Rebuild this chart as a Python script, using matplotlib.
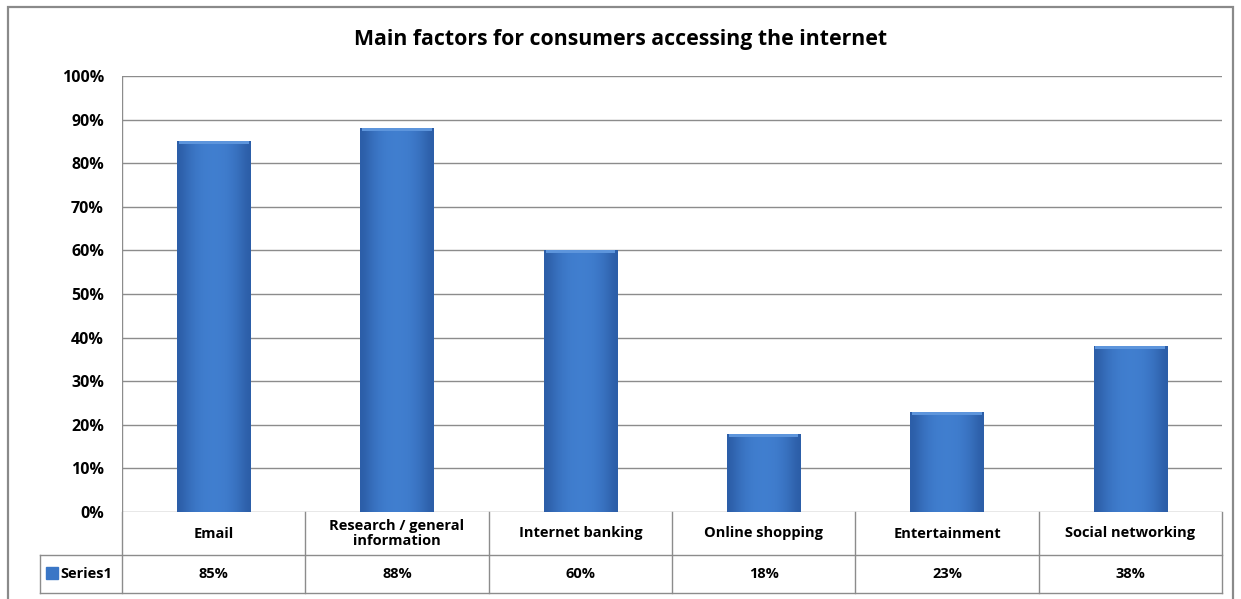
import matplotlib.pyplot as plt
import matplotlib.patches as mpatches
import matplotlib.transforms as mtransforms
import numpy as np

categories = ["Email", "Research / general\ninformation", "Internet banking",
              "Online shopping", "Entertainment", "Social networking"]
values = [85, 88, 60, 18, 23, 38]
series_name = "Series1"
yticks = list(range(0, 101, 10))

plt.rcParams['font.family'] = ['Open Sans', 'DejaVu Sans']
plt.rcParams['font.weight'] = 'bold'

grid_c = '#8c8c8c'
bar_w = 0.40

fig = plt.figure(figsize=[12.41, 5.99], dpi=100)

# outer chart frame
fig.patches.append(mpatches.Rectangle((8/1241, -0.02), (1233-8)/1241, 1.02 - 7/599,
                                      transform=fig.transFigure, fill=False,
                                      ec='#8a8a8a', lw=1.6))

ax = fig.add_axes([122/1241, 1 - 512/599, 1100/1241, 436/599])
x = np.arange(len(categories))
ax.set_xlim(-0.5, len(categories) - 0.5)
ax.set_ylim(0, 100)

for t in yticks:
    ax.axhline(t, color=grid_c, lw=1.0, zorder=0)

bars = ax.bar(x, values, width=bar_w, color='#3a76c6', zorder=2, lw=0)

# horizontal shading across each bar, darker towards the sides
shade = np.array([0.0, 0.3, 0.55, 0.72, 0.82, 0.85, 0.85, 0.82, 0.72, 0.55, 0.3, 0.0])
c0 = np.array([0x2c, 0x5e, 0xa8]) / 255
c1 = np.array([0x44, 0x84, 0xd6]) / 255
img = (c0[None, :] + (c1 - c0)[None, :] * shade[:, None])[None, :, :]
for b in bars:
    bx, bw, bh = b.get_x(), b.get_width(), b.get_height()
    im = ax.imshow(img, extent=(bx, bx + bw, 0, bh), aspect='auto',
                   interpolation='bicubic', zorder=3)
    im.set_clip_path(b)
    # bevelled top edge
    ax.fill_between([bx + 0.01, bx + bw - 0.01], bh - 0.7, bh, color='#5d95dc',
                    zorder=4, lw=0)

for s in ax.spines.values():
    s.set_visible(False)
ax.set_xticks([])
ax.set_yticks(yticks)
ax.set_yticklabels([f"{t}%" for t in yticks], fontsize=11.5, fontweight='bold')
ax.tick_params(axis='y', length=0, pad=13)
ax.axvline(-0.5, color=grid_c, lw=1.0, zorder=1)

# data table under the plot
tr = mtransforms.blended_transform_factory(ax.transData, ax.transAxes)
r1 = -43/436
r2 = -81/436
lx = -0.5 - 82/1100 * len(categories)
lkw = dict(color=grid_c, lw=1.0, transform=tr, clip_on=False)
ax.plot([lx, 5.5], [r1, r1], **lkw)
ax.plot([lx, 5.5], [r2, r2], **lkw)
ax.plot([lx, lx], [r1, r2], **lkw)
for b in np.arange(-0.5, 6.0, 1.0):
    ax.plot([b, b], [0, r2], **lkw)

for xi, cat, v in zip(x, categories, values):
    ax.text(xi, r1 / 2, cat, transform=tr, ha='center', va='center',
            fontsize=10.5, fontweight='bold', linespacing=1.15)
    ax.text(xi, (r1 + r2) / 2, f"{v}%", transform=tr, ha='center', va='center',
            fontsize=10.5, fontweight='bold')

ax.add_patch(mpatches.Rectangle((lx + 0.032, (r1 + r2) / 2 - 0.012), 0.064, 0.028,
                                transform=tr, clip_on=False, color='#3a76c6'))
ax.text(lx + 0.11, (r1 + r2) / 2, series_name, transform=tr, ha='left', va='center',
        fontsize=10.5, fontweight='bold')

fig.text(0.5, 1 - 40/599, "Main factors for consumers accessing the internet",
         ha='center', va='center', fontsize=15.3, fontweight='bold')

fig.savefig("out.png", dpi=100)
